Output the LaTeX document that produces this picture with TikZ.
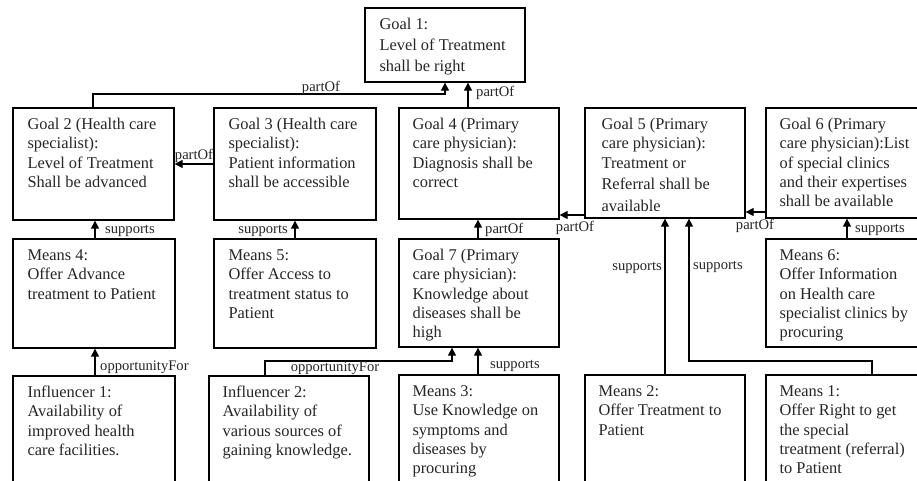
\documentclass[tikz,border=0pt]{standalone}
\usepackage{fontspec}
\setmainfont{Liberation Serif}
\usetikzlibrary{arrows.meta,fit}

% box with its text block: [text options]{name}{x1}{y1}{x2}{y2}{text}
\newcommand\gbox[7][]{%
  \node[frame, fit={(#3,#4) (#5,#6)}] (#2) {};
  \node[txt, anchor=north west, xshift=15pt, yshift=-9pt, #1] (#2t) at (#2.north west) {\rule{0pt}{13pt}#7};
}

\begin{document}
\begin{tikzpicture}[x=1pt,y=-1pt,
  frame/.style={draw=black, line width=1.3pt, inner sep=0pt},
  txt/.style={align=left, inner sep=0pt, text=black!85, font=\fontsize{16.4}{19.3}\selectfont},
  rel/.style={draw=black, line width=1.2pt, -{Triangle[length=8pt,width=8pt]}},
  lbl/.style={inner sep=0pt, text=black!85, font=\fontsize{14.6}{16}\selectfont}]

\useasboundingbox (0,0) rectangle (917,480);
\fill[white] (0,0) rectangle (917,480);
\clip (0,0) rectangle (917,480);

% top goal
\gbox[font=\fontsize{16.4}{21}\selectfont]{g1}{365}{8}{525}{82}{Goal 1:\\Level of Treatment\\shall be right}

% second row: goals
\gbox{g2}{13}{108}{174}{220}{Goal 2 (Health care\\specialist):\\Level of Treatment\\Shall be advanced}
\gbox{g3}{214}{108}{376}{220}{Goal 3 (Health care\\specialist):\\Patient information\\shall be accessible}
\gbox[xshift=-1pt]{g4}{399}{108}{559}{219}{Goal 4 (Primary\\care physician):\\Diagnosis shall be\\correct}
\gbox[xshift=2pt]{g5}{585}{108}{745}{218}{Goal 5 (Primary\\care physician):\\Treatment or\\[2.5pt]Referral shall be\\[2.5pt]available}
\gbox[xshift=-1pt]{g6}{766}{108}{930}{218}{Goal 6 (Primary\\care physician):List\\of special clinics\\and their expertises\\shall be available}

% third row: means and sub-goal
\gbox{m4}{13}{239}{175}{348}{Means 4:\\Offer Advance\\treatment to Patient}
\gbox{m5}{214}{239}{376}{348}{Means 5:\\Offer Access to\\treatment status to\\Patient}
\gbox[xshift=-1pt]{g7}{399}{239}{559}{347}{Goal 7 (Primary\\care physician):\\Knowledge about\\diseases shall be\\high}
\gbox[xshift=-1pt]{m6}{766}{239}{930}{347}{Means 6:\\Offer Information\\on Health care\\specialist clinics by\\procuring}

% bottom row
\gbox{i1}{13}{376}{175}{495}{Influencer 1:\\Availability of\\improved health\\care facilities.}
\gbox[xshift=-1pt]{i2}{209}{376}{369}{495}{Influencer 2:\\Availability of\\various sources of\\gaining knowledge.}
\gbox[xshift=-1pt]{m3}{399}{375}{559}{495}{Means 3:\\Use Knowledge on\\symptoms and\\diseases by\\procuring}
\gbox[xshift=-1pt]{m2}{585}{375}{745}{495}{Means 2:\\Offer Treatment to\\Patient}
\gbox[xshift=-1pt]{m1}{766}{375}{930}{495}{Means 1:\\Offer Right to get\\the special\\treatment (referral)\\to Patient}

% Goal 2 -> Goal 1
\coordinate (k1) at (93,94);
\coordinate (k2) at (445,94);
\draw[rel] (k1 |- g2.north) -- (k1) -- (k2) -- (k2 |- g1.south);
\node[lbl] (l1) at (321,88) {partOf};

% Goal 4 -> Goal 1
\coordinate (k3) at (468,0);
\draw[rel] (k3 |- g4.north) -- (k3 |- g1.south);
\node[lbl, anchor=west] (l2) at (476,93) {partOf};

% Goal 3 -> Goal 2
\coordinate (k4) at (0,164);
\draw[rel] (g3.west |- k4) -- (g2.east |- k4);
\node[lbl] (l3) at (194,156) {partOf};

% Goal 5 -> Goal 4
\coordinate (k5) at (0,215);
\draw[rel] (g5.west |- k5) -- (g4.east |- k5);
\node[lbl] (l4) at (575,228) {partOf};

% Goal 6 -> Goal 5
\coordinate (k6) at (0,212);
\draw[rel] (g6.west |- k6) -- (g5.east |- k6);
\node[lbl] (l5) at (755,226) {partOf};

% Means 4 -> Goal 2
\coordinate (k7) at (95,0);
\draw[rel] (k7 |- m4.north) -- (k7 |- g2.south);
\node[lbl, anchor=west] (l6) at (105,231) {supports};

% Means 5 -> Goal 3
\coordinate (k8) at (295,0);
\draw[rel] (k8 |- m5.north) -- (k8 |- g3.south);
\node[lbl, anchor=east] (l7) at (288,231) {supports};

% Goal 7 -> Goal 4
\coordinate (k9) at (478,0);
\draw[rel] (k9 |- g7.north) -- (k9 |- g4.south);
\node[lbl, anchor=west] (l8) at (485,230) {partOf};

% Means 6 -> Goal 6
\coordinate (k10) at (847,0);
\draw[rel] (k10 |- m6.north) -- (k10 |- g6.south);
\node[lbl, anchor=west] (l9) at (855,230) {supports};

% Influencer 1 -> Means 4
\draw[rel] (k7 |- i1.north) -- (k7 |- m4.south);
\node[lbl, anchor=west] (l10) at (100,367) {opportunityFor};

% Influencer 2 -> Goal 7
\coordinate (k11) at (265,361);
\coordinate (k12) at (452,361);
\draw[rel] (k11 |- i2.north) -- (k11) -- (k12) -- (k12 |- g7.south);
\node[lbl] (l11) at (335,368) {opportunityFor};

% Means 3 -> Goal 7
\draw[rel] (k9 |- m3.north) -- (k9 |- g7.south);
\node[lbl, anchor=west] (l12) at (490,366) {supports};

% Means 2 -> Goal 5
\coordinate (k13) at (665,0);
\draw[rel] (k13 |- m2.north) -- (k13 |- g5.south);
\node[lbl, anchor=east] (l13) at (662,268) {supports};

% Means 1 -> Goal 5
\coordinate (k14) at (872,361);
\coordinate (k15) at (689,361);
\draw[rel] (k14 |- m1.north) -- (k14) -- (k15) -- (k15 |- g5.south);
\node[lbl, anchor=west] (l14) at (693,267) {supports};

\end{tikzpicture}
\end{document}
